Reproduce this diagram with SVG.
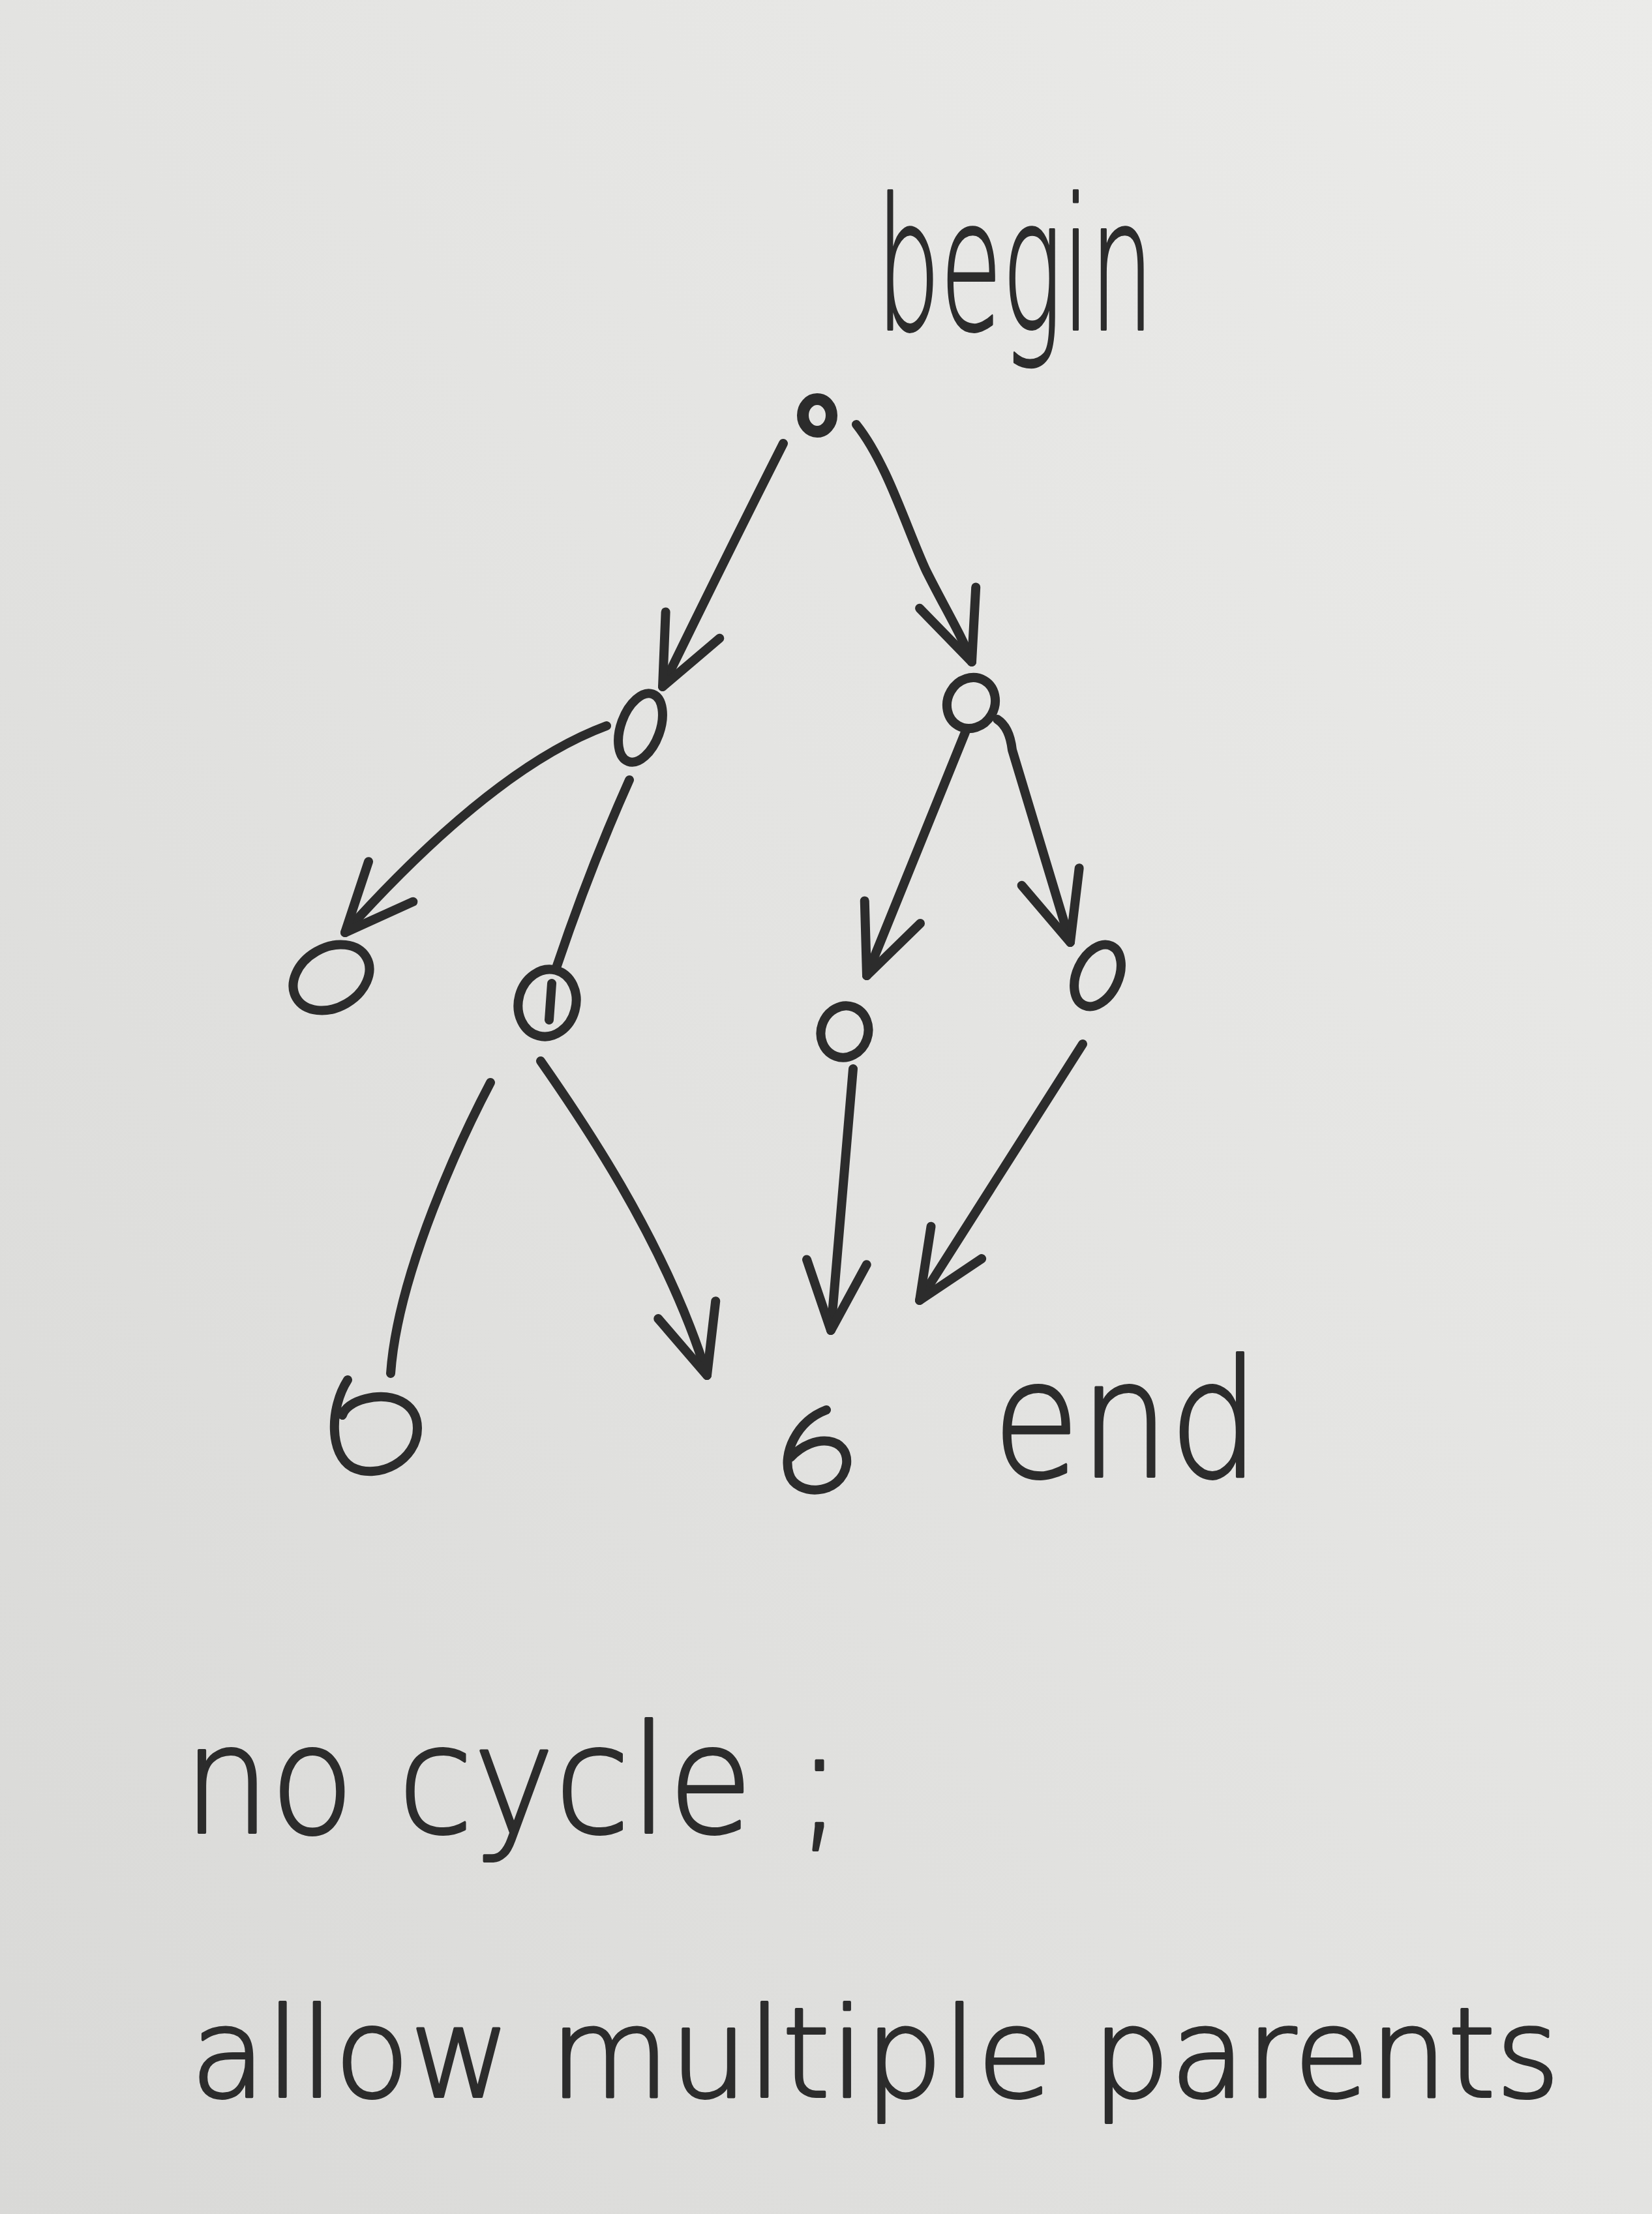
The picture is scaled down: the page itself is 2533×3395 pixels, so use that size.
<svg xmlns="http://www.w3.org/2000/svg" width="2533" height="3395" viewBox="0 0 2533 3395">
<defs>
<linearGradient id="paper" x1="1" y1="0" x2="0" y2="1">
<stop offset="0" stop-color="#ebebe9"/>
<stop offset="0.5" stop-color="#e3e3e1"/>
<stop offset="1" stop-color="#d9d9d7"/>
</linearGradient>
<marker id="ah" markerUnits="userSpaceOnUse" markerWidth="240" markerHeight="240" viewBox="-120 -120 240 240" refX="0" refY="0" orient="auto" overflow="visible">
<path d="M-105,-46 L0,0 L-105,46" fill="none" stroke="#2c2c2c" stroke-width="14" stroke-linecap="round" stroke-linejoin="round"/>
</marker>
<style>
.ink{fill:none;stroke:#2c2c2c;stroke-width:14;stroke-linecap:round;stroke-linejoin:round}
.edge{fill:none;stroke:#2c2c2c;stroke-width:14;stroke-linecap:round;stroke-linejoin:round}
.arr{marker-end:url(#ah)}
.hand{font-family:"DejaVu Sans","Liberation Sans",sans-serif;font-weight:200;fill:#2c2c2c;stroke:#2c2c2c;stroke-width:4;stroke-linejoin:round}
</style>
</defs>
<rect x="0" y="0" width="2533" height="3395" fill="url(#paper)"/>

<g id="connectors">
<path class="edge arr" d="M1201,680 Q1110,860 1016,1053"/>
<path class="edge arr" d="M1313,651 C1360,710 1390,810 1420,875 C1450,935 1475,975 1490,1015"/>
<path class="edge arr" d="M930,1113 C830,1150 700,1240 529,1430"/>
<path class="edge" d="M965,1196 Q905,1330 854,1481"/>
<path class="edge arr" d="M1480,1123 L1329,1496"/>
<path class="edge arr" d="M1529,1103 Q1548,1115 1552,1150 L1641,1445"/>
<path class="edge" d="M752,1660 C710,1740 610,1950 599,2106"/>
<path class="edge arr" d="M829,1627 C880,1700 1020,1900 1084,2109"/>
<path class="edge arr" d="M1308,1639 L1274,2040"/>
<path class="edge arr" d="M1660,1601 L1410,1994"/>
</g>

<g id="node-begin">
<ellipse class="ink" cx="1253" cy="637" rx="22" ry="25" style="stroke-width:18"/>
<text class="hand" x="1344" y="505" font-size="280" textLength="425" lengthAdjust="spacingAndGlyphs">begin</text>
</g>
<g id="node-a">
<ellipse class="ink" cx="982" cy="1116" rx="30" ry="55" transform="rotate(20 982 1116)"/>
</g>
<g id="node-b">
<ellipse class="ink" cx="1489" cy="1078" rx="36" ry="40" transform="rotate(30 1489 1078)"/>
</g>
<g id="node-c">
<ellipse class="ink" cx="508" cy="1499" rx="62" ry="46" transform="rotate(-30 508 1499)"/>
</g>
<g id="node-d">
<ellipse class="ink" cx="839" cy="1538" rx="44" ry="52" transform="rotate(15 839 1538)"/>
<path class="ink" d="M846,1508 L842,1564"/>
</g>
<g id="node-e">
<ellipse class="ink" cx="1295" cy="1582" rx="36" ry="40" transform="rotate(20 1295 1582)"/>
</g>
<g id="node-f">
<ellipse class="ink" cx="1683" cy="1496" rx="32" ry="50" transform="rotate(25 1683 1496)"/>
</g>
<g id="node-g">
<path class="ink" d="M533,2116 C505,2160 505,2230 540,2250 C580,2270 640,2240 640,2190 C640,2150 600,2135 560,2145 C540,2150 528,2160 525,2170"/>
</g>
<g id="node-end">
<path class="ink" d="M1267,2162 C1220,2180 1200,2230 1210,2260 C1220,2295 1290,2295 1298,2245 C1302,2205 1250,2195 1212,2235"/>
<text class="hand" x="1522" y="2264" font-size="250" textLength="409" lengthAdjust="spacingAndGlyphs">end</text>
</g>

<text class="hand" x="281" y="2810" font-size="230" textLength="1011" lengthAdjust="spacingAndGlyphs">no cycle ;</text>
<text class="hand" x="292" y="3215" font-size="190" textLength="2100" lengthAdjust="spacingAndGlyphs">allow multiple parents</text>
</svg>
